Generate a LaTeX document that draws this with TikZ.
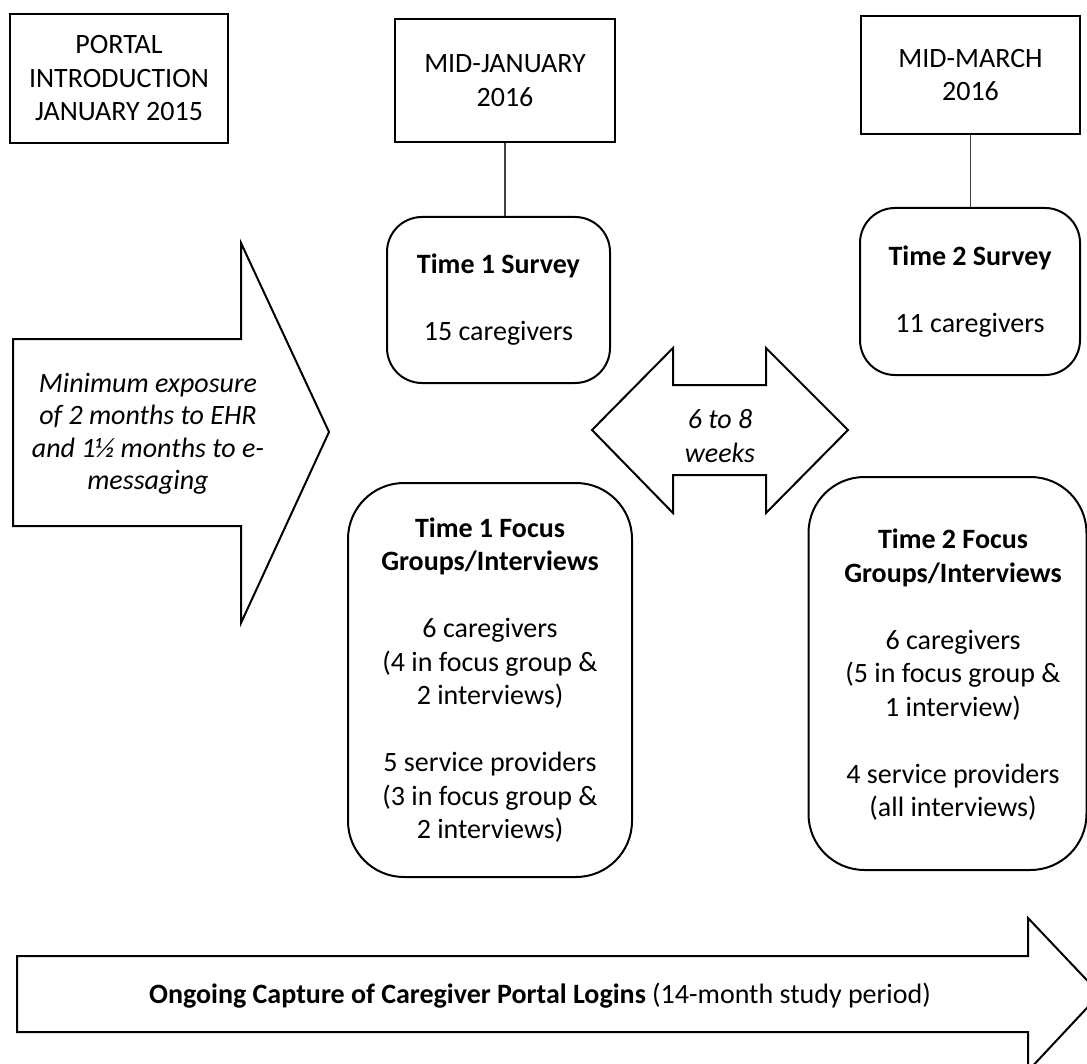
\documentclass[tikz,border=0pt]{standalone}
\usepackage{fontspec}
\setmainfont{Carlito}
\begin{document}
\begin{tikzpicture}[x=0.5pt,y=-0.5pt,
  txt/.style={align=center,inner sep=0pt,font=\fontsize{14}{16.75}\selectfont},
  datebox/.style={txt,draw,line width=1pt},
  survbox/.style={txt,draw,line width=1pt,rounded corners=17.5pt},
  focbox/.style={txt,draw,line width=1pt,rounded corners=28pt},
  shapeline/.style={draw,line width=1pt,line join=miter},
  conn/.style={draw=black!75,line width=0.6pt}]
\path[use as bounding box,clip] (0,0) rectangle (1087,1064);
\fill[white] (0,0) rectangle (1087,1064);

% date boxes
\node[datebox,minimum width=109pt,minimum height=64.5pt] (portal) at (119,78.5) {PORTAL\\INTRODUCTION\\JANUARY 2015};
\node[datebox,minimum width=110pt,minimum height=61.5pt] (jan) at (505,80.5) {MID-JANUARY\\2016};
\node[datebox,minimum width=109.5pt,minimum height=59pt] (mar) at (970.5,75) {MID-MARCH\\2016};

% survey boxes
\node[survbox,minimum width=111.5pt,minimum height=83pt] (s1) at (498.5,300) {\textbf{Time 1 Survey}\\[16.75pt]15 caregivers};
\node[survbox,minimum width=110pt,minimum height=83.5pt] (s2) at (970,291.5) {\textbf{Time 2 Survey}\\[16.75pt]11 caregivers};

\path[conn] (jan.south) -- (jan.south |- s1.north);
\path[conn] (mar.south) -- (mar.south |- s2.north);

% focus group boxes
\node[focbox,minimum width=142pt,minimum height=197pt] (f1) at (490,680) {\textbf{Time 1 Focus}\\\textbf{Groups/Interviews}\\[16.75pt]6 caregivers\\(4 in focus group \&\\2 interviews)\\[16.75pt]5 service providers\\(3 in focus group \&\\2 interviews)};
\node[focbox,minimum width=139pt,minimum height=196.5pt] (f2) at (947.5,673.5) {};
\node[txt] (f2t) at (953,675) {\textbf{Time 2 Focus}\\\textbf{Groups/Interviews}\\[16.75pt]6 caregivers\\(5 in focus group \&\\1 interview)\\[16.75pt]4 service providers\\(all interviews)};

% left exposure arrow
\path[shapeline] (13,339) -- (241,339) -- (241,243) -- (329,432) -- (241,623) -- (241,526) -- (13,526) -- cycle;
\node[txt,font=\fontsize{14}{16.25}\selectfont\itshape] (expo) at (148,434) {Minimum exposure\\of 2 months to EHR\\and 1½ months to e-\\messaging};

% double arrow
\path[shapeline] (592,430) -- (673,348) -- (673,385) -- (766,385) -- (766,348) -- (848,430) -- (766,513) -- (766,475) -- (673,475) -- (673,513) -- cycle;
\node[txt,font=\fontsize{14}{17}\selectfont\itshape] (weeks) at (720,436) {6 to 8\\weeks};

% bottom arrow
\path[shapeline] (17,956) -- (1028,956) -- (1028,918) -- (1100,994) -- (1028,1071) -- (1028,1032) -- (17,1032) -- cycle;
\node[txt] (logins) at (540,996) {\textbf{Ongoing Capture of Caregiver Portal Logins} (14-month study period)};
\end{tikzpicture}
\end{document}
